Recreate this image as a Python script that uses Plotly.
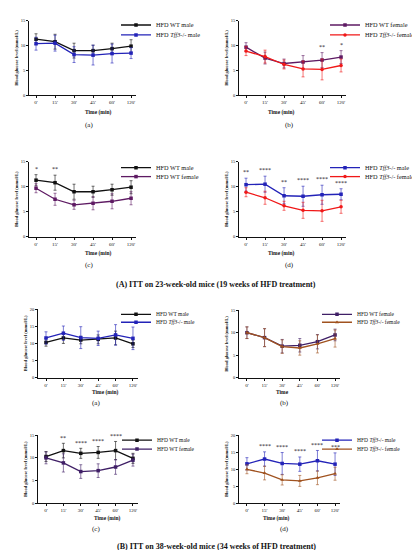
import plotly.graph_objects as go

# ---------------- data ----------------
times = ["0'", "15'", "30'", "45'", "60'", "120'"]

# (A) ITT on 23-week-old mice
A_wt_male = [11.3, 10.8, 9.0, 9.0, 9.4, 9.9]
A_wt_male_sd = [1.1, 1.5, 1.5, 1.1, 1.1, 1.3]
A_ko_male = [10.4, 10.5, 8.2, 8.1, 8.4, 8.5]
A_ko_male_sd = [1.3, 1.6, 1.6, 2.0, 1.9, 1.1]
A_wt_female = [9.7, 7.5, 6.4, 6.7, 7.1, 7.7]
A_wt_female_sd = [0.9, 1.2, 0.9, 1.3, 1.5, 1.3]
A_ko_female = [8.9, 7.8, 6.2, 5.3, 5.2, 6.0]
A_ko_female_sd = [0.9, 1.3, 0.9, 1.6, 2.1, 1.3]

# (B) ITT on 38-week-old mice
B_wt_male = [10.3, 11.6, 11.0, 11.2, 11.6, 9.9]
B_wt_male_sd = [1.1, 1.6, 1.1, 1.3, 2.0, 1.1]
B_ko_male = [11.6, 13.0, 11.7, 11.5, 12.5, 11.5]
B_ko_male_sd = [1.8, 2.1, 3.2, 2.1, 3.0, 3.3]
B_wt_female = [10.0, 8.9, 7.0, 7.2, 8.0, 9.5]
B_wt_female_sd = [1.3, 2.0, 1.5, 1.5, 1.6, 1.3]
B_ko_female = [10.0, 8.9, 6.9, 6.6, 7.5, 8.7]
B_ko_female_sd = [1.3, 2.0, 1.5, 1.6, 2.0, 1.9]

# significance marks per time point
A_b_stars = ["", "", "", "", "**", "*"]
A_c_stars = ["*", "**", "", "", "", ""]
A_d_stars = ["**", "****", "**", "****", "****", "****"]
B_c_stars = ["", "**", "****", "****", "****", ""]
B_d_stars = ["", "****", "****", "****", "****", "***"]

labels = {
    "wt_m": "HFD WT male",
    "ko_m": "HFD <i>Tff3</i>-/- male",
    "wt_f": "HFD WT female",
    "ko_f": "HFD <i>Tff3</i>-/- female",
}

# ---------------- layout helpers ----------------
W, H = 420, 550
FONT = "Liberation Serif"
BLACK = "#111111"
BLUE = "#2323b8"
PURPLE = "#5e1a63"
RED = "#f01818"
PURPLE_B = "#3f1f66"
BROWN = "#a0521f"

def px_x(p):
    return p / W

def px_y(p):
    return 1 - p / H

# panel geometry (pixels)
panels = [
    dict(xd=(21, 128), yd=(11, 86), ymax=15, xr=(-0.37, 5.26), sub="(a)", subx=75, suby=116, xt="Time (min)", xtx=75, xty=103),
    dict(xd=(231, 338), yd=(11, 86), ymax=15, xr=(-0.37, 5.26), sub="(b)", subx=288, suby=116, xt="Time (min)", xtx=288, xty=103),
    dict(xd=(21, 128), yd=(153, 229), ymax=15, xr=(-0.37, 5.26), sub="(c)", subx=75, suby=257, xt="Time (min)", xtx=75, xty=246),
    dict(xd=(231, 338), yd=(153, 229), ymax=15, xr=(-0.37, 5.26), sub="(d)", subx=288, suby=257, xt="Time (min)", xtx=288, xty=246),
    dict(xd=(30, 130), yd=(302, 371), ymax=20, xr=(-0.46, 5.29), sub="(a)", subx=82, suby=397, xt="Time (min)", xtx=82, xty=386),
    dict(xd=(231, 332), yd=(303, 371), ymax=15, xr=(-0.45, 5.28), sub="(b)", subx=283, suby=397, xt="Time", xtx=283, xty=386),
    dict(xd=(30, 130), yd=(429, 498), ymax=15, xr=(-0.46, 5.29), sub="(c)", subx=82, suby=524, xt="Time (min)", xtx=84, xty=513),
    dict(xd=(231, 332), yd=(429, 498), ymax=20, xr=(-0.45, 5.28), sub="(d)", subx=283, suby=524, xt="Time (min)", xtx=283, xty=513),
]

series = [
    [("wt_m", A_wt_male, A_wt_male_sd, BLACK, "square"), ("ko_m", A_ko_male, A_ko_male_sd, BLUE, "square")],
    [("wt_f", A_wt_female, A_wt_female_sd, PURPLE, "square"), ("ko_f", A_ko_female, A_ko_female_sd, RED, "circle")],
    [("wt_m", A_wt_male, A_wt_male_sd, BLACK, "square"), ("wt_f", A_wt_female, A_wt_female_sd, PURPLE, "square")],
    [("ko_m", A_ko_male, A_ko_male_sd, BLUE, "square"), ("ko_f", A_ko_female, A_ko_female_sd, RED, "circle")],
    [("wt_m", B_wt_male, B_wt_male_sd, BLACK, "square"), ("ko_m", B_ko_male, B_ko_male_sd, BLUE, "square")],
    [("wt_f", B_wt_female, B_wt_female_sd, PURPLE_B, "square"), ("ko_f", B_ko_female, B_ko_female_sd, BROWN, "triangle-up")],
    [("wt_m", B_wt_male, B_wt_male_sd, BLACK, "square"), ("wt_f", B_wt_female, B_wt_female_sd, PURPLE_B, "square")],
    [("ko_m", B_ko_male, B_ko_male_sd, BLUE, "square"), ("ko_f", B_ko_female, B_ko_female_sd, BROWN, "triangle-up")],
]
# legend text start x (px), item centre y (px), font size
legend_pos = [
    (153, (15, 25), 6.3), (362, (15, 25), 6.3), (153, (159, 168), 6.3), (362, (159, 168), 6.3),
    (153, (307, 315), 5.5), (354, (307, 315), 5.5), (154, (434, 443), 5.5), (354, (434, 443), 5.5),
]
stars = {1: A_b_stars, 2: A_c_stars, 3: A_d_stars, 6: B_c_stars, 7: B_d_stars}

fig = go.Figure()
layout = dict(
    width=W, height=H, autosize=False, showlegend=True,
    margin=dict(l=0, r=0, t=0, b=0),
    paper_bgcolor="white", plot_bgcolor="white",
    font=dict(family=FONT, color="#111111", size=5),
    annotations=[],
)

leg_idx = 0
for i, (p, ser) in enumerate(zip(panels, series)):
    n = i + 1
    xa = "x" if n == 1 else f"x{n}"
    ya = "y" if n == 1 else f"y{n}"
    xname = "xaxis" if n == 1 else f"xaxis{n}"
    yname = "yaxis" if n == 1 else f"yaxis{n}"
    layout[xname] = dict(
        domain=[px_x(p["xd"][0]), px_x(p["xd"][1])], anchor=ya,
        range=list(p["xr"]), tickmode="array", tickvals=list(range(len(times))), ticktext=times,
        showline=True, linecolor=BLACK, linewidth=0.8, ticks="outside", ticklen=2, tickwidth=0.6,
        tickcolor=BLACK, showgrid=False, zeroline=False, tickfont=dict(size=5, family=FONT),
    )
    layout[yname] = dict(
        domain=[px_y(p["yd"][1]), px_y(p["yd"][0])], anchor=xa,
        range=[0, p["ymax"]], tickmode="array", tickvals=list(range(0, p["ymax"] + 1, 5)),
        showline=True, linecolor=BLACK, linewidth=0.8, ticks="outside", ticklen=2, tickwidth=0.6,
        tickcolor=BLACK, showgrid=False, zeroline=False, tickfont=dict(size=4.5, family=FONT),
        title=dict(text="<b>Blood glucose level (mmol/L)</b>", font=dict(size=4.5, family=FONT), standoff=2),
    )
    lx, lys, lfs = legend_pos[i]
    for j, (key, vals, sd, col, sym) in enumerate(ser):
        leg_idx += 1
        lid = "legend" if leg_idx == 1 else f"legend{leg_idx}"
        fig.add_trace(go.Scatter(
            x=list(range(len(times))), y=vals, xaxis=xa, yaxis=ya,
            mode="lines+markers", name=labels[key], legend=lid, showlegend=True,
            line=dict(color=col, width=1.3),
            marker=dict(color=col, symbol=sym, size=3.5),
            error_y=dict(type="data", array=sd, visible=True, color=col, thickness=0.6, width=1.5),
            cliponaxis=False,
        ))
        layout[lid] = dict(
            x=px_x(lx - 45), xanchor="left", y=px_y(lys[j] - 14.5), yanchor="top",
            bgcolor="rgba(0,0,0,0)", borderwidth=0, font=dict(size=lfs, family=FONT),
            itemwidth=30, tracegroupgap=0, visible=True,
        )
    if i in stars:
        off = p["ymax"] * 0.01
        for k, s in enumerate(stars[i]):
            if not s:
                continue
            top = max(v[k] + e[k] for (_, v, e, _, _) in ser)
            layout["annotations"].append(dict(
                x=k, y=top + off, xref=xa, yref=ya, text=s, showarrow=False,
                yanchor="bottom", font=dict(size=6, family=FONT, color=BLACK),
            ))
    layout["annotations"].append(dict(
        x=px_x(p["xtx"]), y=px_y(p["xty"]), xref="paper", yref="paper", text=f"<b>{p['xt']}</b>",
        showarrow=False, yanchor="middle", font=dict(size=5.5, family=FONT, color=BLACK),
    ))
    layout["annotations"].append(dict(
        x=px_x(p["subx"]), y=px_y(p["suby"]), xref="paper", yref="paper", text=p["sub"],
        showarrow=False, yanchor="middle", font=dict(size=7, family=FONT, color=BLACK),
    ))

layout["annotations"].append(dict(
    x=px_x(208), y=px_y(277), xref="paper", yref="paper", showarrow=False, yanchor="middle",
    text="<b>(A) ITT on 23-week-old mice (19 weeks of HFD treatment)</b>",
    font=dict(size=8, family=FONT, color=BLACK),
))
layout["annotations"].append(dict(
    x=px_x(208), y=px_y(541), xref="paper", yref="paper", showarrow=False, yanchor="middle",
    text="<b>(B) ITT on 38-week-old mice (34 weeks of HFD treatment)</b>",
    font=dict(size=8, family=FONT, color=BLACK),
))

fig.update_layout(**layout)
fig.write_html("out.html")
